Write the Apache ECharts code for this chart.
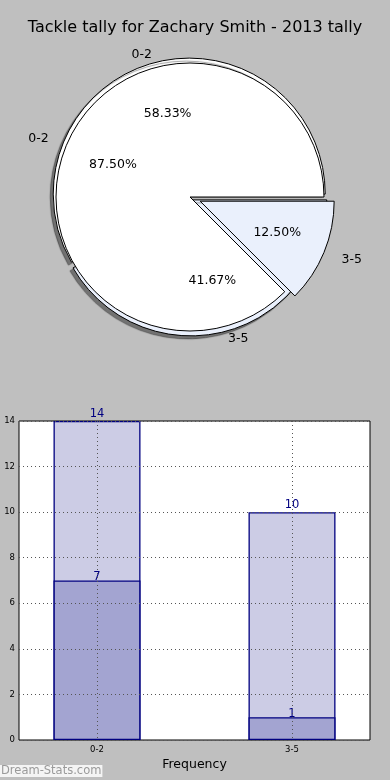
<!DOCTYPE html>
<html>
<head>
<meta charset="utf-8">
<script src="https://cdn.jsdelivr.net/npm/echarts@6/dist/echarts.min.js"></script>
<style>
html,body{margin:0;padding:0;background:#bfbfbf;}
#c{width:390px;height:780px;}
</style>
</head>
<body>
<div id="c"></div>
<script>
// ---- data ----
var titleText = 'Tackle tally for Zachary Smith - 2013 tally';
var categories = ['0-2', '3-5'];
var outerValues = [14, 10];   // light bars, back pie
var innerValues = [7, 1];     // dark bars, front pie
var yTicks = [0, 2, 4, 6, 8, 10, 12, 14];

var FONT = 'DejaVu Sans';
var R = 134;
var CENTER = [190, 197];
var sliceColors = ['#ffffff', '#eaf0fc'];

function pieData(values, selectedIdx) {
  return values.map(function (v, i) {
    return {
      name: categories[i],
      value: v,
      selected: selectedIdx.indexOf(i) >= 0,
      itemStyle: { color: sliceColors[i] }
    };
  });
}
function pctLabelData(values, selectedIdx) {
  return values.map(function (v, i) {
    return { name: categories[i], value: v, selected: selectedIdx.indexOf(i) >= 0 };
  });
}

var pieBase = {
  type: 'pie',
  center: CENTER,
  startAngle: 0,
  clockwise: false,
  avoidLabelOverlap: false,
  selectedMode: 'multiple',
  silent: true,
  animation: false,
  emphasis: { disabled: true }
};

function mk(extra) {
  var o = {};
  for (var k in pieBase) o[k] = pieBase[k];
  for (var k2 in extra) o[k2] = extra[k2];
  return o;
}

var nameLabel = {
  show: true, position: 'outside', distanceToLabelLine: 0,
  formatter: '{b}', color: '#000', fontFamily: FONT, fontSize: 12.5
};
var pctLabel = {
  show: true, position: 'inside',
  formatter: function (p) { return p.percent.toFixed(2) + '%'; },
  color: '#000', fontFamily: FONT, fontSize: 12.5
};

function barLabel(dist) {
  return { show: true, position: 'top', distance: dist, color: '#000080', fontFamily: FONT, fontSize: 11.5,
    formatter: function (p) { return p.value[1]; } };
}

var option = {
  backgroundColor: '#bfbfbf',
  animation: false,
  title: [
    { text: titleText, left: 'center', top: 20, padding: 0,
      textStyle: { fontFamily: FONT, fontSize: 16, fontWeight: 'normal', color: '#000' } },
    { text: 'Dream-Stats.com', left: 0, bottom: 3, padding: [0, 1, 0, 1],
      backgroundColor: '#f4f4f4',
      textStyle: { fontFamily: FONT, fontSize: 11.5, fontWeight: 'normal', color: '#9a9a9a' } }
  ],
  grid: {
    left: 19, right: 20, top: 421, bottom: 40,
    show: true, backgroundColor: '#ffffff', borderColor: '#000', borderWidth: 1
  },
  xAxis: {
    type: 'value', min: -0.4, max: 1.4, z: 10,
    name: 'Frequency', nameLocation: 'middle', nameGap: 18,
    nameTextStyle: { fontFamily: FONT, fontSize: 12.5, color: '#000' },
    axisLine: { show: false },
    axisTick: { show: false, customValues: [0, 1] },
    axisLabel: {
      customValues: [0, 1], fontFamily: FONT, fontSize: 8.5, color: '#000', margin: 5,
      formatter: function (v) { return categories[Math.round(v)]; }
    },
    splitLine: { show: true, lineStyle: { color: '#555', type: [1, 3], width: 1 } }
  },
  yAxis: {
    type: 'value', min: 0, max: 14, interval: 2, z: 10,
    axisLine: { show: false },
    axisTick: { show: false },
    axisLabel: { fontFamily: FONT, fontSize: 8.5, color: '#000', margin: 4 },
    splitLine: { show: true, lineStyle: { color: '#555', type: [1, 3], width: 1 } }
  },
  series: [
    mk({
      name: 'back', radius: R + 2, z: 1, selectedOffset: 3,
      itemStyle: { borderColor: '#000', borderWidth: 1,
        shadowColor: 'rgba(0,0,0,0.4)', shadowBlur: 1, shadowOffsetX: -3, shadowOffsetY: 3 },
      label: nameLabel,
      labelLine: { show: false, length: 8, length2: 0 },
      data: pieData(outerValues, [0, 1])
    }),
    mk({
      name: 'front', radius: R, z: 2, selectedOffset: 11,
      itemStyle: { borderColor: '#000', borderWidth: 1 },
      label: nameLabel,
      labelLine: { show: false, length: 19, length2: 0 },
      data: pieData(innerValues, [1])
    }),
    mk({
      name: 'backPct', radius: [R * 0.2, R], z: 5, selectedOffset: 3,
      itemStyle: { color: 'rgba(0,0,0,0)', borderWidth: 0 },
      label: pctLabel,
      labelLine: { show: false },
      data: pctLabelData(outerValues, [0, 1])
    }),
    mk({
      name: 'frontPct', radius: [R * 0.2, R], z: 5, selectedOffset: 11,
      itemStyle: { color: 'rgba(0,0,0,0)', borderWidth: 0 },
      label: pctLabel,
      labelLine: { show: false },
      data: pctLabelData(innerValues, [1])
    }),
    {
      type: 'bar', name: 'outerBars', barWidth: 87, barGap: '-100%', z: 3,
      silent: true,
      itemStyle: { color: 'rgb(204,204,229)', borderColor: '#000080', borderWidth: 1.3 },
      label: barLabel(1),
      data: outerValues.map(function (v, i) { return [i, v]; })
    },
    {
      type: 'bar', name: 'innerBars', barWidth: 87, barGap: '-100%', z: 4,
      silent: true,
      itemStyle: { color: 'rgb(163,164,209)', borderColor: '#000080', borderWidth: 1.3 },
      label: barLabel(-3),
      data: innerValues.map(function (v, i) { return [i, v]; })
    }
  ]
};

var chart = echarts.init(document.getElementById('c'), null, { renderer: 'canvas' });
chart.setOption(option);
</script>
</body>
</html>
